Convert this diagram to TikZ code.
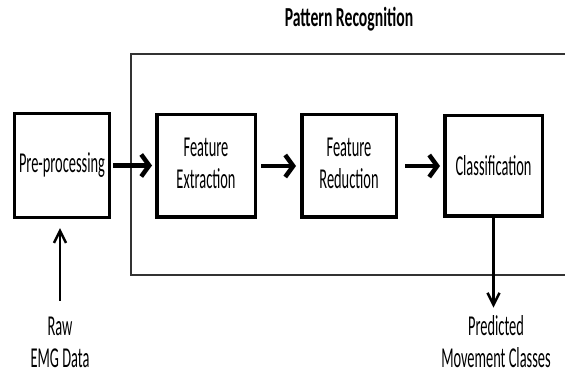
\documentclass[tikz,border=0pt]{standalone}
\usepackage{graphicx}
\usepackage{fontspec}
\setmainfont{Carlito}
\usetikzlibrary{arrows.meta}
\newcommand{\mytall}[1]{\scalebox{1}[2]{#1}}
\newcommand{\mytwo}[2]{\mytall{\begin{tabular}{@{}c@{}}#1\\#2\end{tabular}}}
\newcommand{\mytwob}[2]{\mytall{\raisebox{0pt}[\height][0pt]{\begin{tabular}[b]{@{}c@{}}#1\\#2\end{tabular}}}}
\begin{document}
\begin{tikzpicture}[x=1pt,y=-1pt,
  box/.style={draw, line width=3.5pt, inner sep=0pt, font=\fontsize{14.4}{16}\selectfont},
  lbl/.style={inner sep=0pt, outer sep=0pt, anchor=south, font=\fontsize{14.4}{16}\selectfont},
  group/.style={draw=black!80, line width=1.3pt, inner sep=0pt},
  harrow/.style={line width=4.5pt, -{Straight Barb[length=8pt,width=22pt]}},
  varrow/.style={line width=2.5pt, -{Straight Barb[length=12pt,width=12pt]}}]
\useasboundingbox (0,0) rectangle (565,374);
% group frame
\node[group, minimum width=444pt, minimum height=221pt] (patrec) at (353,164.5) {};
\node[inner sep=0pt, font=\fontsize{15.7}{18}\selectfont\bfseries] (title) at (349,19) {\scalebox{1}[1.75]{Pattern Recognition}};
% boxes
\node[box, minimum width=94.8pt, minimum height=103.8pt] (pre) at (62,165.5) {\mytall{Pre-processing}};
\node[box, minimum width=98.5pt, minimum height=102.5pt] (fe) at (206,166) {\mytwo{Feature}{Extraction}};
\node[box, minimum width=94.5pt, minimum height=102.5pt] (fr) at (349,166) {\mytwo{Feature}{Reduction}};
\node[box, minimum width=97.5pt, minimum height=100.5pt] (cl) at (493.5,166) {\mytall{Classification}};
% labels
\node[lbl] (raw) at (60,367) {\mytwob{Raw}{EMG Data}};
\node[lbl] (pred) at (496,367) {\mytwob{Predicted}{Movement Classes}};
% arrows
\draw[harrow, shorten <=2pt, shorten >=3pt] (pre.east) -- (pre.east -| fe.west);
\draw[harrow, shorten <=4pt, shorten >=4pt] (fe.east) -- (fe.east -| fr.west);
\draw[harrow, shorten <=7pt, shorten >=3pt] (fr.east) -- (fr.east -| cl.west);
\draw[varrow, shorten <=12pt, shorten >=9pt] (raw.north) -- (raw.north |- pre.south);
\draw[varrow, shorten >=5pt] (cl.south) -- (cl.south |- pred.north);
\end{tikzpicture}
\end{document}
